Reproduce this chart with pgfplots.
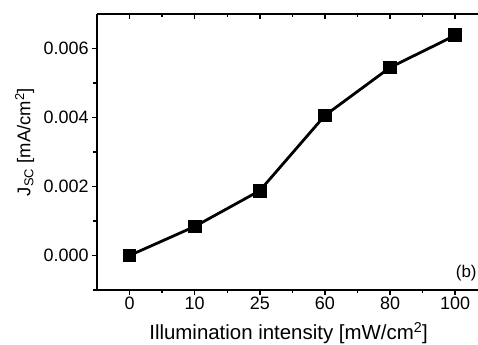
\documentclass[border=0pt]{standalone}
\usepackage{pgfplots}
\pgfplotsset{compat=1.18}
\usepackage{fontspec}
\setmainfont{Liberation Sans}
\begin{document}
\begin{tikzpicture}
\pgfplotsset{
  common/.style={
    scale only axis, width=381bp, height=276bp,
    xmin=-0.5, xmax=5.35, ymin=-0.001, ymax=0.007,
    axis line style={line width=2.6bp, -},
    tick style={line width=1.5bp, black},
    major tick length=5bp, minor tick length=3.5bp,
    xtick={0,1,2,3,4,5}, minor xtick={0.5,1.5,2.5,3.5,4.5},
    ytick={0,0.002,0.004,0.006}, minor ytick={-0.001,0.001,0.003,0.005},
    /pgf/number format/assume math mode=true,
    tick label style={font=\fontsize{18}{21}\selectfont},
  }
}
\begin{axis}[common, name=ax,
  axis x line*=bottom, axis y line*=left,
  tick align=outside,
  xticklabels={0,10,25,60,80,100},
  xticklabel style={yshift=1.5bp},
  scaled y ticks=false,
  yticklabel style={/pgf/number format/.cd, fixed, fixed zerofill, precision=3},
  xlabel={Illumination intensity [mW/cm\textsuperscript{2}]},
  ylabel={J\textsubscript{SC} [mA/cm\textsuperscript{2}]},
  every axis x label/.style={at={(axis description cs:0.503,-0.156)}, anchor=center, font=\fontsize{20.5}{24}\selectfont},
  every axis y label/.style={at={(axis description cs:-0.19,0.536)}, anchor=center, rotate=90, font=\fontsize{18.5}{22}\selectfont},
]
\addplot[black, line width=2.8bp, mark=square*, mark size=5.5bp, mark options={solid}]
  coordinates {(0,0) (1,0.00084) (2,0.00188) (3,0.00406) (4,0.00545) (5,0.00638)};
\node[font=\fontsize{17}{20}\selectfont] at (axis cs:5.17,-0.00052) {(b)};
\end{axis}
\begin{axis}[common,
  axis x line*=top, axis y line=none,
  tick align=inside,
  xticklabels={},
]
\end{axis}
\pgfresetboundingbox
\path ([xshift=-97bp,yshift=-55bp]ax.south west) rectangle ([yshift=14bp]ax.north east);
\end{tikzpicture}
\end{document}
